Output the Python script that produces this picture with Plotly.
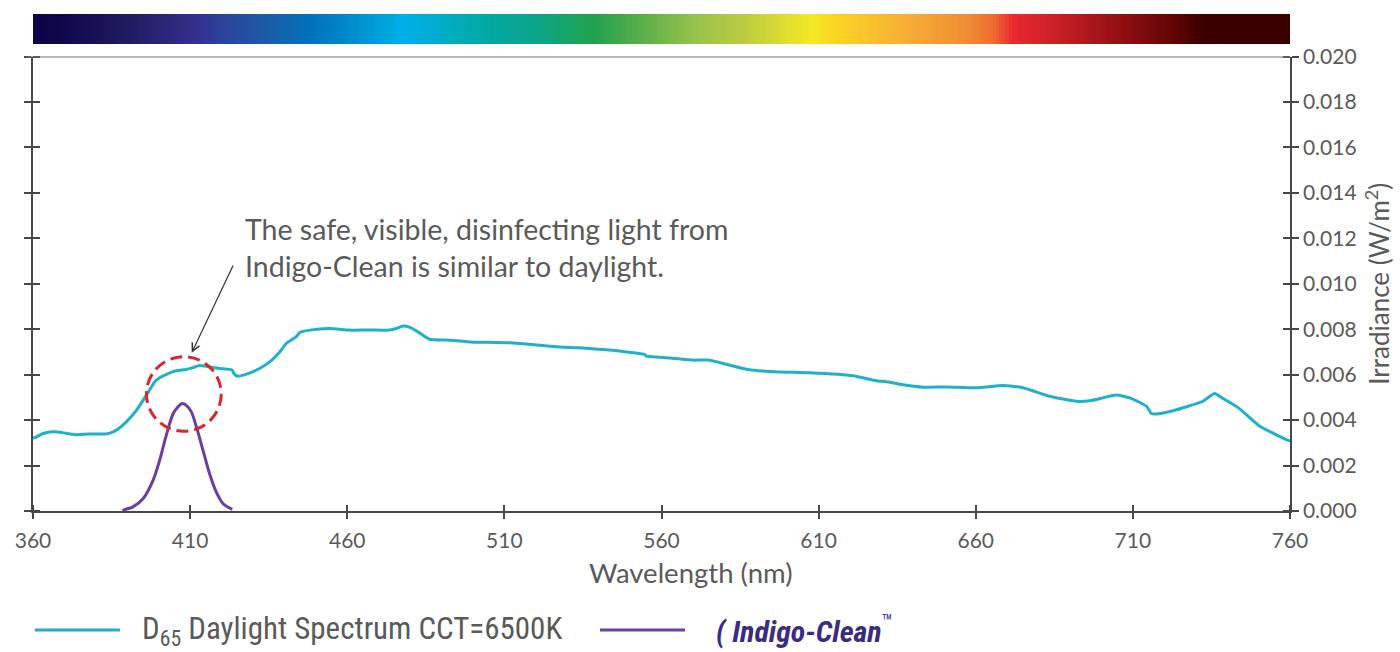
import plotly.graph_objects as go

# ---------------- data ----------------
wavelength_ticks = [360, 410, 460, 510, 560, 610, 660, 710, 760]
irr_ticks = [0.000, 0.002, 0.004, 0.006, 0.008, 0.010, 0.012, 0.014, 0.016, 0.018, 0.020]
irr_tick_labels = ["0.000", "0.002", "0.004", "0.006", "0.008", "0.010",
                   "0.012", "0.014", "0.016", "0.018", "0.020"]

d65_nm = [360, 361, 363, 365.3, 368, 370.5, 373.3, 378, 383.3, 385.5, 387.5, 389.7,
          392.9, 396.1, 398.7, 400.3, 403, 405.6, 408.8, 410.9, 413, 416.2, 419.4,
          423.4, 423.9, 425.2, 427.9, 432.1, 435.3, 438.5, 440.6, 443.8, 444.9, 448,
          454.4, 460.8, 467.1, 473.5, 475.6, 477.7, 479.9, 483, 486.2, 491.5, 495.8,
          499, 511.7, 527.6, 534, 543.5, 548.8, 554.6, 555.2, 559.4, 570, 574.8,
          580.6, 587, 594.4, 607.2, 620.9, 628.4, 632.6, 636, 643.3, 650.7, 660.2,
          668.7, 675, 683.5, 692, 696.3, 704.8, 709, 714.3, 715.9, 717.5, 722.8,
          732.3, 736, 738.7, 743.5, 750.4, 759.4, 760]
d65_irr = [0.00320, 0.00325, 0.00340, 0.00348, 0.00348, 0.00342, 0.00336, 0.00339,
           0.00339, 0.00348, 0.00365, 0.00392, 0.00443, 0.00510, 0.00568, 0.00586,
           0.00605, 0.00617, 0.00623, 0.00631, 0.00640, 0.00634, 0.00627, 0.00620,
           0.00605, 0.00593, 0.00602, 0.00627, 0.00656, 0.00700, 0.00737, 0.00767,
           0.00786, 0.00796, 0.00803, 0.00796, 0.00797, 0.00796, 0.00803, 0.00814,
           0.00808, 0.00784, 0.00756, 0.00752, 0.00748, 0.00744, 0.00740, 0.00722,
           0.00718, 0.00708, 0.00700, 0.00689, 0.00681, 0.00677, 0.00664, 0.00664,
           0.00646, 0.00624, 0.00614, 0.00608, 0.00595, 0.00573, 0.00567, 0.00558,
           0.00545, 0.00546, 0.00542, 0.00552, 0.00542, 0.00505, 0.00483, 0.00485,
           0.00510, 0.00498, 0.00461, 0.00429, 0.00427, 0.00441, 0.00483, 0.00517,
           0.00495, 0.00455, 0.00373, 0.00311, 0.00308]

indigo_nm = [388.5, 389.2, 391.8, 395, 398.2, 400.3, 402.4, 404.6, 406.1, 407.5,
             408.8, 410.4, 412, 414.1, 416.2, 418.3, 420.5, 423.4]
indigo_irr = [0.00000, 0.00006, 0.00018, 0.00054, 0.00135, 0.00223, 0.00333, 0.00429,
              0.00458, 0.00473, 0.00465, 0.00436, 0.00370, 0.00267, 0.00164, 0.00084,
              0.00032, 0.00007]

bar_nm = list(range(360, 761))

d65_label = "D<sub>65</sub> Daylight Spectrum CCT=6500K"
indigo_label = "<b><i>( Indigo-Clean</i></b><sup>™</sup>"
note_text = "The safe, visible, disinfecting light from<br>Indigo-Clean is similar to daylight."

# ---------------- styles ----------------
CYAN = "#21b1c7"
PURPLE = "#6b3f9e"
RED = "#d8262d"
AXIS = "#474747"
TXT = "#5a5a5a"
FONT = "Lato, 'Noto Sans', sans-serif"
NARROW = "'Liberation Sans Narrow', 'Roboto Condensed', Lato, sans-serif"

spectrum_scale = [
    [0.000, "#0e0548"], [0.020, "#0f064a"], [0.080, "#221d62"], [0.133, "#35318f"],
    [0.151, "#2c4399"], [0.187, "#1a5ea8"], [0.222, "#0072bb"], [0.286, "#00a8e0"],
    [0.292, "#00aeef"], [0.328, "#00adc3"], [0.364, "#02a8a0"], [0.400, "#0ca58a"],
    [0.446, "#21a24f"], [0.488, "#60b04a"], [0.530, "#9bc34a"], [0.566, "#bccb3f"],
    [0.620, "#f5e926"], [0.637, "#fbd524"], [0.690, "#f7b135"], [0.744, "#f08c33"],
    [0.765, "#ef6a32"], [0.779, "#ec2a2f"], [0.815, "#c91f26"], [0.868, "#8e0f11"],
    [0.904, "#650606"], [0.932, "#3a0000"], [1.000, "#3a0000"],
]

fig = go.Figure()

fig.add_trace(go.Heatmap(
    x=bar_nm, y=[0], z=[bar_nm], colorscale=spectrum_scale, showscale=False,
    xaxis="x", yaxis="y2", hoverinfo="skip",
))

fig.add_trace(go.Scatter(
    x=d65_nm, y=d65_irr, mode="lines", name="D65 Daylight Spectrum CCT=6500K",
    line=dict(color=CYAN, width=3, shape="spline", smoothing=0.5), showlegend=False,
))
fig.add_trace(go.Scatter(
    x=indigo_nm, y=indigo_irr, mode="lines", name="Indigo-Clean",
    line=dict(color=PURPLE, width=3, shape="spline", smoothing=0.8), showlegend=False,
))

# ---------------- layout ----------------
W, H = 1400, 652
ML, MR, MT, MB = 33, 110, 14, 141
PW, PH = W - ML - MR, H - MT - MB


def px(xpix):
    return (xpix - ML) / PW


def py(ypix):
    return (H - MB - ypix) / PH


main_top = py(56.5)
tickfont = dict(family=FONT, size=21, color=TXT)

# inside ("crossing") half of every tick, nudged a hair inward so it is not merged
# with the major tick at the same place
x_inner = [v + 0.02 if v < wavelength_ticks[-1] else v - 0.02 for v in wavelength_ticks]
y_inner = [v + 2e-6 if v < irr_ticks[-1] else v - 2e-6 for v in irr_ticks]

fig.update_layout(
    width=W, height=H,
    margin=dict(l=ML, r=MR, t=MT, b=MB, autoexpand=False),
    paper_bgcolor="white", plot_bgcolor="white",
    showlegend=False,
    xaxis=dict(range=[360, 760], tickmode="array", tickvals=wavelength_ticks,
               showgrid=False, zeroline=False, domain=[0, 1], anchor="y",
               automargin=False,
               ticks="outside", ticklen=6, tickwidth=1.5, tickcolor=AXIS,
               minor=dict(tickmode="array", tickvals=x_inner, ticks="inside",
                          ticklen=6, tickwidth=1.5, tickcolor=AXIS, showgrid=False),
               showline=True, linecolor=AXIS, linewidth=1.5,
               tickfont=tickfont, ticklabelstandoff=4),
    yaxis=dict(range=[0, 0.020], tickmode="array", tickvals=irr_ticks,
               ticktext=irr_tick_labels, showgrid=False, zeroline=False,
               domain=[0, main_top], anchor="x", side="right", automargin=False,
               ticks="outside", ticklen=7, tickwidth=1.5, tickcolor=AXIS,
               minor=dict(tickmode="array", tickvals=y_inner, ticks="inside",
                          ticklen=7, tickwidth=1.5, tickcolor=AXIS, showgrid=False),
               showline=True, mirror="ticks", linecolor=AXIS, linewidth=1.5,
               tickfont=tickfont,
               title=dict(text="Irradiance (W/m<sup>2</sup>)",
                          font=dict(family=FONT, size=26, color=TXT))),
    yaxis2=dict(domain=[py(44), py(14)], anchor="x", range=[-0.5, 0.5],
                visible=False, fixedrange=True, automargin=False),
)

shapes = [
    # top border line at 0.020
    dict(type="line", xref="paper", yref="y", x0=px(26), x1=1, y0=0.020, y1=0.020,
         line=dict(color="#6e6e6e", width=2)),
    # dashed highlight circle around the Indigo-Clean peak
    dict(type="circle", xref="x", yref="y", x0=396.1, x1=419.9, y0=0.00351, y1=0.00679,
         line=dict(color=RED, width=3, dash="12px,6px")),
    # legend samples
    dict(type="line", xref="paper", yref="paper", x0=px(35), x1=px(120),
         y0=py(630), y1=py(630), line=dict(color=CYAN, width=3)),
    dict(type="line", xref="paper", yref="paper", x0=px(600), x1=px(685),
         y0=py(630), y1=py(630), line=dict(color=PURPLE, width=3)),
]
fig.update_layout(shapes=shapes)

annotations = [
    dict(x=410.5, y=0.00696, xref="x", yref="y", ax=423.9, ay=0.01087,
         axref="x", ayref="y", text="", showarrow=True, arrowhead=5,
         arrowsize=1.3, arrowwidth=1.2, arrowcolor="#333333", standoff=0),
    dict(x=px(243), y=py(210), xref="paper", yref="paper", xanchor="left",
         yanchor="top", align="left", text=note_text, showarrow=False,
         font=dict(family=FONT, size=28.5, color=TXT)),
    dict(x=px(690), y=py(572), xref="paper", yref="paper", xanchor="center",
         yanchor="middle", text="Wavelength (nm)", showarrow=False,
         font=dict(family=FONT, size=27.5, color=TXT)),
    dict(x=px(140), y=py(630), xref="paper", yref="paper", xanchor="left",
         yanchor="middle", text=d65_label, showarrow=False,
         font=dict(family=NARROW, size=31, color=TXT)),
    dict(x=px(714), y=py(629), xref="paper", yref="paper", xanchor="left",
         yanchor="middle", text=indigo_label, showarrow=False,
         font=dict(family=NARROW, size=30, color="#3b2c82")),
]
fig.update_layout(annotations=annotations)

fig.write_html("out.html", config={"displayModeBar": False},
               post_script="document.body.style.margin='0';")
